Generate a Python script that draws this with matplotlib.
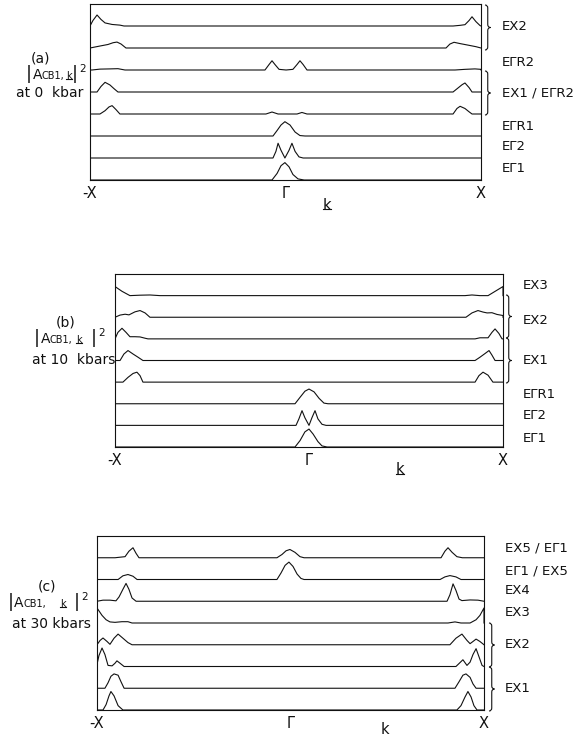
import matplotlib.pyplot as plt
from matplotlib.lines import Line2D
from matplotlib.path import Path
from matplotlib.patches import PathPatch

W, H = 587, 738

# |A_CB1,k|^2 along -X .. Gamma .. X  (k = -1 .. 0 .. 1)
# one list per state, top row first; heights in units of the row spacing

# (a) 0 kbar
a_k = [
    [-1, -0.985, -0.964, -0.944, -0.923, -0.887, -0.847, -0.826, 0.857, 0.893, 0.918, 0.939, 0.954, 0.974, 0.995, 1.0],
    [-1, -0.949, -0.908, -0.882, -0.862, -0.841, -0.816, 0.821, 0.841, 0.862, 0.893, 0.934, 0.974, 1.0],
    [-0.99, -0.949, -0.898, -0.857, -0.821, -0.105, -0.084, -0.069, -0.054, -0.033, 0.003, 0.038, 0.059, 0.074, 0.090, 0.110, 0.867, 0.918, 0.969, 1.0],
    [-0.964, -0.944, -0.923, -0.898, -0.877, -0.857, 0.857, 0.882, 0.903, 0.918, 0.939, 0.954],
    [-0.949, -0.923, -0.903, -0.887, -0.867, -0.847, -0.1, -0.069, -0.038, 0.059, 0.084, 0.11, 0.857, 0.877, 0.893, 0.918, 0.939, 0.954],
    [-0.064, -0.043, -0.023, -0.003, 0.023, 0.049, 0.074, 0.1],
    [-0.064, -0.049, -0.038, -0.023, -0.003, 0.018, 0.033, 0.049, 0.069, 0.09],
    [-0.069, -0.043, -0.023, -0.003, 0.018, 0.038, 0.064, 0.095],
]
a_h = [
    [0, 0.25, 0.5, 0.3, 0.14, 0.07, 0.04, 0, 0, 0.03, 0.06, 0.25, 0.42, 0.2, 0.02, 0],
    [0, 0.09, 0.16, 0.24, 0.27, 0.18, 0, 0, 0.18, 0.26, 0.2, 0.13, 0.06, 0],
    [0, 0.04, 0.05, 0.06, 0, 0, 0.25, 0.42, 0.25, 0.03, 0, 0.03, 0.25, 0.42, 0.25, 0, 0, 0.03, 0.05, 0.03],
    [0, 0.25, 0.44, 0.32, 0.15, 0, 0, 0.18, 0.33, 0.41, 0.2, 0],
    [0, 0.15, 0.32, 0.38, 0.2, 0, 0, 0.09, 0, 0, 0.07, 0, 0, 0.25, 0.35, 0.25, 0.1, 0],
    [0, 0.25, 0.5, 0.65, 0.5, 0.18, 0.02, 0],
    [0, 0.3, 0.67, 0.35, 0, 0.35, 0.67, 0.3, 0.05, 0],
    [0, 0.3, 0.65, 0.79, 0.6, 0.25, 0.05, 0],
]
a_labels = ["EX2", "EΓR2", "EX1 / EΓR2", "EΓR1", "EΓ2", "EΓ1"]

# (b) 10 kbars
b_k = [
    [-1, -0.964, -0.923, -0.871, -0.82, -0.768, 0.804, 0.840, 0.881, 0.923, 1.0],
    [-1, -0.974, -0.948, -0.928, -0.897, -0.871, -0.845, -0.82, 0.809, 0.840, 0.871, 0.897, 0.918, 0.943, 0.969, 1.0],
    [-1, -0.985, -0.964, -0.943, -0.923, -0.897, -0.871, -0.845, -0.830, 0.856, 0.881, 0.923, 0.943, 0.959, 0.979, 0.995],
    [-0.974, -0.954, -0.933, -0.907, -0.881, -0.856, 0.856, 0.881, 0.907, 0.928, 0.943, 0.959],
    [-0.959, -0.933, -0.907, -0.887, -0.871, -0.856, 0.856, 0.876, 0.897, 0.923, 0.948],
    [-0.072, -0.046, -0.021, 0, 0.026, 0.052, 0.077, 0.098],
    [-0.067, -0.052, -0.036, -0.021, 0, 0.015, 0.031, 0.046, 0.067, 0.088],
    [-0.072, -0.046, -0.021, 0, 0.021, 0.046, 0.067, 0.093],
]
b_h = [
    [0.42, 0.2, 0, 0.02, 0.03, 0, 0, 0.03, 0, 0, 0.42],
    [0, 0.1, 0.14, 0.11, 0.25, 0.31, 0.2, 0, 0, 0.2, 0.31, 0.24, 0.2, 0.21, 0.13, 0.08],
    [0, 0.3, 0.49, 0.3, 0.1, 0.1, 0.09, 0.03, 0, 0, 0.05, 0.05, 0.3, 0.46, 0.25, 0],
    [0, 0.3, 0.46, 0.3, 0.15, 0, 0, 0.15, 0.32, 0.46, 0.25, 0],
    [0, 0.22, 0.4, 0.46, 0.3, 0, 0, 0.3, 0.46, 0.32, 0],
    [0, 0.3, 0.58, 0.68, 0.55, 0.25, 0.03, 0],
    [0, 0.3, 0.68, 0.35, 0, 0.35, 0.68, 0.3, 0.05, 0],
    [0, 0.3, 0.7, 0.83, 0.6, 0.25, 0.05, 0],
]
b_labels = ["EX3", "EX2", "EX1", "EΓR1", "EΓ2", "EΓ1"]

# (c) 30 kbars
c_k = [
    [-0.907, -0.855, -0.835, -0.814, -0.798, -0.783, -0.07, -0.044, -0.023, -0.003, 0.023, 0.049, 0.07, 0.778, 0.798, 0.814, 0.835, 0.860, 0.888],
    [-0.891, -0.866, -0.840, -0.814, -0.793, -0.07, -0.049, -0.028, -0.008, 0.013, 0.034, 0.054, 0.07, 0.773, 0.798, 0.824, 0.855, 0.881],
    [-1, -0.969, -0.933, -0.902, -0.886, -0.866, -0.850, -0.835, -0.819, -0.798, 0.809, 0.824, 0.840, 0.855, 0.871, 0.886, 0.928, 0.969, 1.0],
    [-1, -0.974, -0.953, -0.933, -0.907, -0.871, -0.840, -0.819, 0.814, 0.850, 0.881, 0.928, 0.959, 0.979, 1.0],
    [-1, -0.984, -0.969, -0.948, -0.933, -0.912, -0.891, -0.866, -0.840, -0.819, 0.824, 0.855, 0.886, 0.912, 0.928, 0.943, 0.959, 0.979, 1.0],
    [-1, -0.990, -0.974, -0.959, -0.943, -0.922, -0.907, -0.897, -0.881, -0.860, 0.855, 0.876, 0.891, 0.912, 0.928, 0.943, 0.959, 0.974, 0.990, 1.0],
    [-0.959, -0.943, -0.928, -0.912, -0.891, -0.876, -0.860, 0.850, 0.871, 0.891, 0.907, 0.928, 0.943, 0.959],
    [-0.969, -0.953, -0.938, -0.928, -0.912, -0.891, -0.866, 0.860, 0.881, 0.902, 0.917, 0.933, 0.948, 0.964],
]
c_h = [
    [0, 0.05, 0.3, 0.46, 0.2, 0, 0, 0.15, 0.32, 0.38, 0.25, 0.05, 0, 0, 0.3, 0.46, 0.25, 0.05, 0],
    [0, 0.17, 0.23, 0.15, 0, 0, 0.3, 0.65, 0.8, 0.6, 0.25, 0.05, 0, 0, 0.12, 0.18, 0.12, 0],
    [0, 0.05, 0.05, 0.02, 0.2, 0.55, 0.82, 0.55, 0.15, 0, 0, 0.3, 0.8, 0.5, 0.1, 0.03, 0.06, 0.05, 0],
    [0.69, 0.35, 0.15, 0.05, 0.03, 0.06, 0.06, 0, 0, 0.05, 0, 0, 0.15, 0.35, 0.69],
    [0, 0.2, 0.31, 0.15, 0.02, 0.3, 0.49, 0.3, 0.1, 0, 0, 0.3, 0.49, 0.2, 0.05, 0.15, 0.26, 0.15, 0],
    [0.1, 0.5, 0.85, 0.55, 0.05, 0.03, 0.15, 0.26, 0.15, 0, 0, 0.18, 0.31, 0.05, 0.2, 0.55, 0.82, 0.45, 0.05, 0],
    [0, 0.25, 0.55, 0.66, 0.6, 0.3, 0, 0, 0.3, 0.6, 0.66, 0.5, 0.2, 0],
    [0, 0.25, 0.65, 0.85, 0.65, 0.2, 0, 0, 0.2, 0.6, 0.85, 0.6, 0.2, 0],
]
c_labels = ["EX5 / EΓ1", "EΓ1 / EX5", "EX4", "EX3", "EX2", "EX1"]

pressures = ["(a)", "(b)", "(c)"]
pressure_text = ["at 0  kbar", "at 10  kbars", "at 30 kbars"]
k_ticks = ["-X", "Γ", "X"]

LINE = "#111111"

fig = plt.figure(figsize=(W / 100, H / 100), dpi=100)


def fx(x):
    return x / W


def fy(y):
    return 1 - y / H


def txt(x, y, s, size, ha="left", va="center"):
    return fig.text(fx(x), fy(y), s, fontsize=size, ha=ha, va=va, color=LINE)


def panel(box, ks, hs):
    left, top, right, bottom = box
    ax = fig.add_axes([fx(left), fy(bottom), (right - left) / W, (bottom - top) / H])
    n = len(ks)
    for i, (k, h) in enumerate(zip(ks, hs)):
        base = n - 1 - i
        kk = [-1.0] + list(k) + [1.0]
        yy = [base] + [base + v for v in h] + [base]
        ax.plot(kk, yy, color=LINE, lw=0.8, solid_joinstyle="round")
    ax.set_xlim(-1, 1)
    ax.set_ylim(0, n)
    ax.set_xticks([-1, 0, 1], k_ticks)
    ax.set_yticks([])
    ax.tick_params(length=0, labelsize=10.5, pad=4, colors=LINE)
    for sp in ax.spines.values():
        sp.set_linewidth(0.8)
        sp.set_color(LINE)
    return ax


def brace(x, y0, y1, w=5.5):
    ym = (y0 + y1) / 2
    h = w / 2
    pts = [(x, y0), (x + h, y0), (x + h, y0 + 3), (x + h, ym - 3), (x + h, ym), (x + w, ym),
           (x + h, ym), (x + h, ym + 3), (x + h, y1 - 3), (x + h, y1), (x, y1)]
    codes = [Path.MOVETO, Path.CURVE3, Path.CURVE3, Path.LINETO, Path.CURVE3, Path.CURVE3,
             Path.CURVE3, Path.CURVE3, Path.LINETO, Path.CURVE3, Path.CURVE3]
    p = Path([(fx(a), fy(b)) for a, b in pts], codes)
    fig.add_artist(PathPatch(p, fill=False, lw=0.8, ec=LINE, transform=fig.transFigure))


underlined = []


def amplitude_label(bar1, a, sub, kx, bar2, sup, base):
    txt(bar1, base, "|", 13, ha="center", va="baseline")
    txt(a, base, "A", 10, va="baseline")
    txt(sub, base, "CB1,", 7, va="baseline")
    underlined.append(txt(kx, base, "k", 7, va="baseline"))
    txt(bar2, base, "|", 13, ha="center", va="baseline")
    txt(sup, base - 7, "2", 7.5, va="baseline")


# panel boxes in pixels: left, top, right, bottom
panel(( 90,   4, 481, 180), a_k, a_h)
panel((115, 274, 503, 447), b_k, b_h)
panel(( 97, 536, 484, 710), c_k, c_h)

# left-hand labels
txt(40, 59, pressures[0], 10, ha="center")
amplitude_label(29, 33, 41, 66, 75, 79, 79)
txt(50, 93, pressure_text[0], 10, ha="center")

txt(66, 323, pressures[1], 10, ha="center")
amplitude_label(37, 41, 50, 76, 94, 98, 343)
txt(74, 360, pressure_text[1], 10, ha="center")

txt(47, 587, pressures[2], 10, ha="center")
amplitude_label(11, 14, 23, 60, 77, 81, 607)
txt(51, 624, pressure_text[2], 10, ha="center")

# right-hand state labels
for s, y in zip(a_labels, [26, 62, 93, 127, 147, 168]):
    txt(502, y, s, 9.5)
for s, y in zip(b_labels, [285, 320, 360, 395, 416, 438]):
    txt(523, y, s, 9.5)
for s, y in zip(c_labels, [548, 571, 590, 613, 645, 688]):
    txt(505, y, s, 9.5)

brace(485, 5, 50)
brace(485, 71, 115)
brace(506, 295, 338)
brace(506, 338, 383)
brace(489, 623, 667)
brace(489, 667, 711)

# k axis labels
underlined.append(txt(327, 205, "k", 10.5, ha="center"))
underlined.append(txt(400, 470, "k", 10.5, ha="center"))
txt(385, 730, "k", 10.5, ha="center")

fig.canvas.draw()
for t in underlined:
    bb = t.get_window_extent()
    y = (bb.y0 + 0.22 * bb.height) / H
    fig.add_artist(Line2D([bb.x0 / W, bb.x1 / W], [y, y], lw=0.8, color=LINE,
                          transform=fig.transFigure))

fig.savefig("out.png", dpi=100, facecolor="white")
